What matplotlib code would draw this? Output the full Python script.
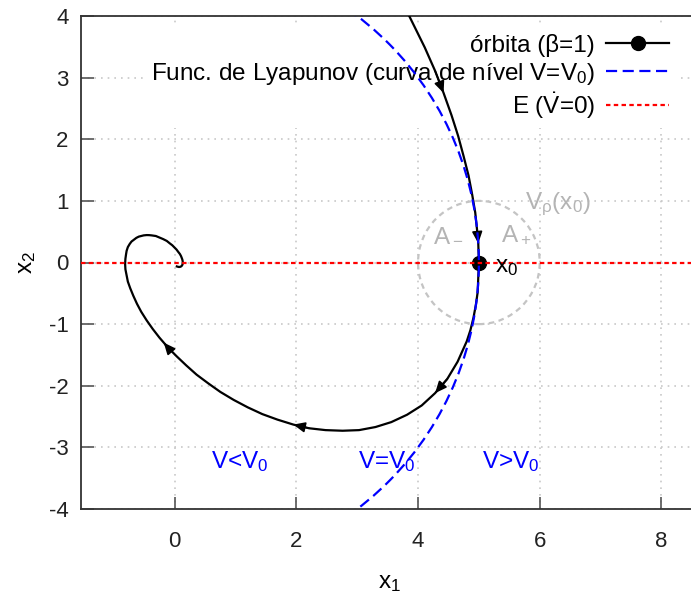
import matplotlib
matplotlib.use("Agg")
import matplotlib.pyplot as plt
from matplotlib.patches import Circle

plt.rcParams['font.family'] = ['Liberation Sans', 'DejaVu Sans']
plt.rcParams['mathtext.fontset'] = 'custom'
plt.rcParams['mathtext.rm'] = 'Liberation Sans'
plt.rcParams['mathtext.it'] = 'Liberation Sans'
plt.rcParams['mathtext.sf'] = 'Liberation Sans'
plt.rcParams['axes.unicode_minus'] = False

# ---- data ----
orbit_x1 = [3.84, 4.11, 4.28, 4.42, 4.55, 4.66, 4.75, 4.83, 4.89, 4.94, 4.97, 4.99, 5.00,
            4.99, 4.98, 4.95, 4.91, 4.86, 4.80, 4.65, 4.48, 4.28, 4.06, 3.82, 3.56, 3.30,
            3.03, 2.76, 2.48, 2.21, 1.95, 1.69, 1.44, 1.20, 0.97, 0.75, 0.55, 0.36, 0.19,
            0.03, -0.12, -0.18, -0.25, -0.36, -0.46, -0.55, -0.62, -0.68, -0.73, -0.77,
            -0.79, -0.81, -0.815, -0.81, -0.80, -0.79, -0.77, -0.74, -0.71, -0.67, -0.63,
            -0.59, -0.55, -0.51, -0.46, -0.42, -0.38, -0.31, -0.25, -0.19, -0.13, -0.08,
            -0.04, 0.00, 0.03, 0.06, 0.086, 0.104, 0.116, 0.126, 0.131, 0.133, 0.132,
            0.128, 0.122, 0.114, 0.105, 0.088, 0.070, 0.052, 0.035]
orbit_x2 = [4.03, 3.49, 3.11, 2.75, 2.39, 2.05, 1.72, 1.41, 1.10, 0.81, 0.53, 0.31, 0.00,
            -0.24, -0.48, -0.69, -0.90, -1.10, -1.28, -1.61, -1.89, -2.12, -2.32, -2.47,
            -2.59, -2.67, -2.72, -2.73, -2.72, -2.69, -2.63, -2.55, -2.46, -2.35, -2.23,
            -2.10, -1.96, -1.82, -1.67, -1.52, -1.37, -1.30, -1.22, -1.08, -0.94, -0.80,
            -0.67, -0.54, -0.42, -0.31, -0.21, -0.11, -0.02, 0.06, 0.13, 0.19, 0.25, 0.30,
            0.34, 0.37, 0.40, 0.42, 0.43, 0.44, 0.445, 0.444, 0.44, 0.43, 0.405, 0.38,
            0.35, 0.31, 0.28, 0.24, 0.21, 0.17, 0.137, 0.104, 0.074, 0.047, 0.022, 0.001,
            -0.018, -0.033, -0.046, -0.056, -0.064, -0.071, -0.073, -0.069, -0.064]
arrow_idx = [3, 11, 21, 30, 41]          # orbit points carrying direction arrows
x0 = (5.0, 0.0)                          # initial point
level_radius = 5.0                       # V = V0 level curve (circle)
rho_radius = 1.0                         # neighbourhood V_rho(x0)
region_labels = ['V<V$_0$', 'V=V$_0$', 'V>V$_0$']
region_x = [1.07, 3.49, 5.52]
region_y = [-3.23, -3.23, -3.23]
x_ticks = [0, 2, 4, 6, 8]
y_ticks = [-4, -3, -2, -1, 0, 1, 2, 3, 4]

FS = 17.5

fig = plt.figure(figsize=(6.91, 6.01), dpi=100)
ax = fig.add_axes([81/691, 92/601, 1.01 - 81/691, 493/601])
ax.set_xlim(-1.54, 8.6)
ax.set_ylim(-4, 4)

# grid
ax.set_axisbelow(True)
ax.grid(True, color='#c8c8c8', linestyle=(0, (1, 3)), linewidth=1.2)

# x0 marker (beneath the curves)
ax.plot([x0[0]], [x0[1]], 'o', color='black', markersize=10, zorder=2.5)

# orbit
ax.plot(orbit_x1, orbit_x2, color='black', linewidth=1.6, zorder=3)
ax.plot([], [], color='black', linewidth=1.6, marker='o', markersize=10,
        label='órbita (β=1)')
for i in arrow_idx:
    ax.annotate('', xy=(orbit_x1[i], orbit_x2[i]), xytext=(orbit_x1[i-1], orbit_x2[i-1]),
                arrowprops=dict(arrowstyle='-|>,head_length=0.5,head_width=0.22',
                                color='black', lw=1.2, mutation_scale=14,
                                shrinkA=0, shrinkB=0), zorder=3.1)

# Lyapunov level curve
lev = Circle((0, 0), level_radius, fill=False, edgecolor='#0000ff', linewidth=1.6,
             linestyle=(0, (5, 2.5)), zorder=3.5)
ax.add_patch(lev)
ax.plot([], [], color='#0000ff', linewidth=1.6, linestyle=(0, (5, 2.5)),
        label='Func. de Lyapunov (curva de nível V=V$_0$)')

# E (Vdot = 0) line
ax.axhline(0, color='#ff0000', linestyle=(0, (2, 1.5)), linewidth=1.6, zorder=4,
           label=r'E ($\dot{\mathregular{V}}$=0)')

# neighbourhood circle
nb = Circle(x0, rho_radius, fill=False, edgecolor='#c4c4c4', linewidth=1.6,
            linestyle=(0, (2.5, 2)), zorder=2)
ax.add_patch(nb)

ax.text(x0[0] + 0.26, x0[1] - 0.08, 'x$_0$', fontsize=FS, va='center', ha='left', zorder=5)

# gray annotations
gray = '#b4b4b4'
ax.text(4.5, 0.45, 'A$_-$', color=gray, fontsize=FS, ha='center', va='center')
ax.text(5.62, 0.45, 'A$_+$', color=gray, fontsize=FS, ha='center', va='center')
ax.text(6.3, 0.94, r'V$_\rho$(x$_0$)', color=gray, fontsize=FS, ha='center', va='center')

# region labels
for lbl, xx, yy in zip(region_labels, region_x, region_y):
    ax.text(xx, yy, lbl, color='#0000ff', fontsize=FS, ha='center', va='center')

# axes styling
ax.set_xticks(x_ticks)
ax.set_yticks(y_ticks)
ax.tick_params(direction='in', length=9, width=1.2, color='#555555', labelsize=16,
               labelcolor='#222222')
ax.tick_params(axis='x', pad=16)
ax.tick_params(axis='y', pad=9)
for s in ['left', 'bottom', 'top']:
    ax.spines[s].set_color('#333333')
    ax.spines[s].set_linewidth(1.3)
ax.spines['right'].set_visible(False)
ax.set_xlabel('x$_1$', fontsize=FS, labelpad=14)
ax.set_ylabel('x$_2$', fontsize=FS, labelpad=8)

handles, labels = ax.get_legend_handles_labels()
order = [labels.index('órbita (β=1)'),
         labels.index('Func. de Lyapunov (curva de nível V=V$_0$)'),
         labels.index(r'E ($\dot{\mathregular{V}}$=0)')]
leg = ax.legend([handles[k] for k in order], [labels[k] for k in order],
                loc='upper right', bbox_to_anchor=(0.985, 1.003), markerfirst=False,
                frameon=True, framealpha=1, edgecolor='none', facecolor='white',
                fontsize=FS, handlelength=2.6, labelspacing=0.15, borderpad=0.3,
                handletextpad=0.45, fancybox=False)
leg.set_zorder(1)

fig.savefig('out.png', dpi=100)
